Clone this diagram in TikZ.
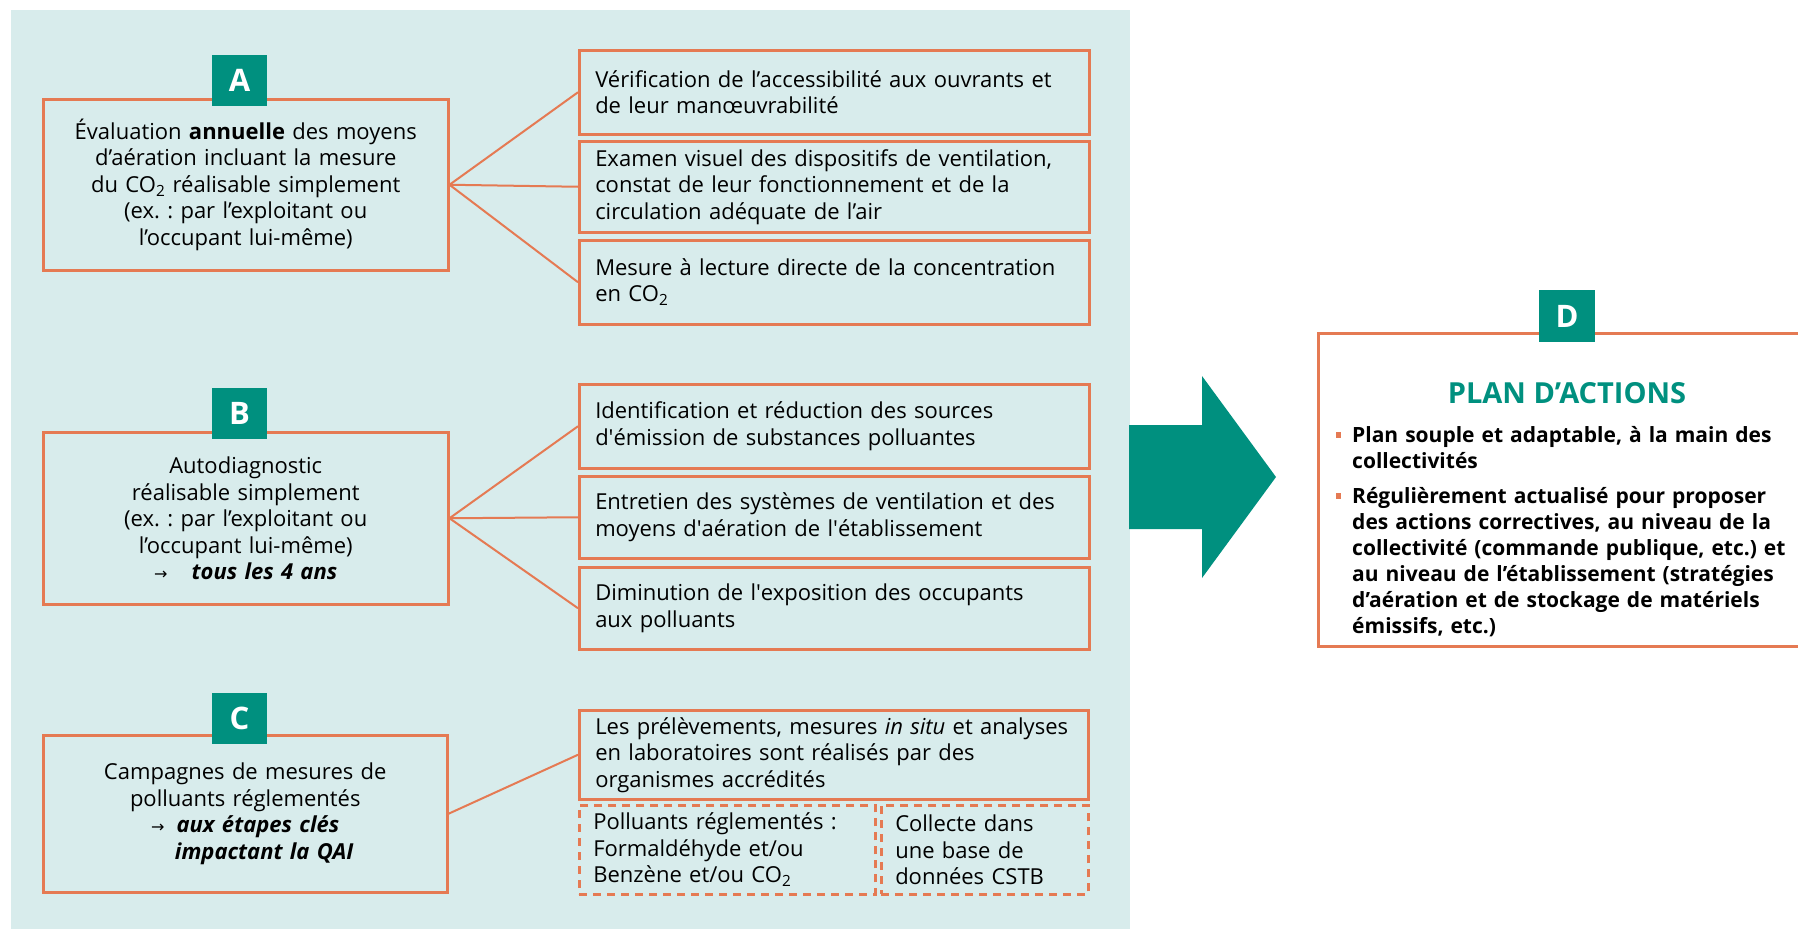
\documentclass[tikz,border=0pt]{standalone}
\usepackage{fontspec}
\setmainfont{Open Sans}
\newfontfamily\symfont{DejaVu Sans}
\definecolor{panelbg}{HTML}{D8ECEC}
\definecolor{orng}{HTML}{E57A53}
\definecolor{teal}{HTML}{00907F}
\newcommand{\arr}{{\symfont\fontsize{16}{20}\selectfont →}}
\newcommand{\sq}{\textquotesingle}
\frenchspacing
\begin{document}
\begin{tikzpicture}[x=1pt,y=-1pt,
  txt/.style={font=\fontsize{22}{26.5}\selectfont},
  mainbox/.style={txt,draw=orng,line width=2.5pt,anchor=north west,inner sep=0pt,align=center,text width=400pt,minimum width=405pt},
  subbox/.style={txt,draw=orng,line width=2.5pt,anchor=north west,inner xsep=16pt,inner ysep=0pt,align=left,text width=478pt,minimum width=510pt},
  dashbox/.style={txt,draw=orng,line width=2.5pt,dash pattern=on 8pt off 6pt,anchor=north west,inner xsep=14pt,inner ysep=0pt,align=left},
  letter/.style={fill=teal,text=white,font=\bfseries\fontsize{31}{31}\selectfont,minimum width=55pt,minimum height=51pt,inner sep=0pt},
  link/.style={draw=orng,line width=2pt},
  dtxt/.style={font=\bfseries\fontsize{21}{26}\selectfont,anchor=north west,inner sep=0pt,text width=460pt,align=left}
]
\useasboundingbox (0,0) rectangle (1798,929);
\clip (0,0) rectangle (1798,929);
\fill[panelbg] (11,10) rectangle (1130,929);

% Block A
\node[mainbox,minimum height=171pt] (A) at (42,98) {Évaluation \textbf{annuelle} des moyens\\d’aération incluant la mesure\\du CO\textsubscript{2} réalisable simplement\\(ex. : par l’exploitant ou\\l’occupant lui-même)};
\node[letter] (LA) at (239.5,80) {A};
\node[subbox,minimum height=84pt] (A1) at (578,49) {Vérification de l’accessibilité aux ouvrants et\\de leur manœuvrabilité};
\node[subbox,minimum height=91pt] (A2) at (578,140) {Examen visuel des dispositifs de ventilation,\\constat de leur fonctionnement et de la\\circulation adéquate de l’air};
\node[subbox,minimum height=84pt] (A3) at (578,239) {Mesure à lecture directe de la concentration\\en CO\textsubscript{2}};
\draw[link] (A.east) -- (A1.west);
\draw[link] (A.east) -- (A2.west);
\draw[link] (A.east) -- (A3.west);

% Block B
\node[mainbox,minimum height=172pt] (B) at (42,431) {Autodiagnostic\\réalisable simplement\\(ex. : par l’exploitant ou\\l’occupant lui-même)\\\arr\hspace{24pt}\textbf{\textit{tous les 4 ans}}};
\node[letter] (LB) at (239.5,413.5) {B};
\node[subbox,minimum height=84pt] (B1) at (578,383) {Identification et réduction des sources\\d\sq émission de substances polluantes};
\node[subbox,minimum height=82pt] (B2) at (578,475) {Entretien des systèmes de ventilation et des\\moyens d\sq aération de l\sq établissement};
\node[subbox,minimum height=82pt] (B3) at (578,566) {Diminution de l\sq exposition des occupants\\aux polluants};
\draw[link] (B.east) -- (B1.west);
\draw[link] (B.east) -- (B2.west);
\draw[link] (B.east) -- (B3.west);

% Block C
\node[mainbox,minimum height=157pt,minimum width=404pt] (C) at (42,734) {Campagnes de mesures de\\polluants réglementés\\\arr\hspace{12pt}\textbf{\textit{aux étapes clés}}\\\hspace*{38pt}\textbf{\textit{impactant la QAI}}};
\node[letter] (LC) at (239.5,718) {C};
\node[subbox,minimum height=89pt,minimum width=509pt,text width=477pt] (C1) at (578,709) {Les prélèvements, mesures \textit{in situ} et analyses\\en laboratoires sont réalisés par des\\organismes accrédités};
\node[dashbox,minimum height=89pt,minimum width=296pt,text width=268pt] (C2) at (578,804) {Polluants réglementés :\\Formaldéhyde et/ou\\Benzène et/ou CO\textsubscript{2}};
\node[dashbox,minimum height=89pt,minimum width=207pt,text width=179pt] (C3) at (880,804) {Collecte dans\\une base de\\données CSTB};
\draw[link] (C.east) -- (C1.west);

% Arrow
\fill[teal] (1129,425) -- (1202,425) -- (1202,376) -- (1276,477) -- (1202,578) -- (1202,529) -- (1129,529) -- cycle;

% Block D
\node[draw=orng,line width=2.5pt,anchor=north west,minimum width=500pt,minimum height=313pt,inner sep=0pt] (D) at (1317,332) {};
\node[letter,minimum width=56pt,minimum height=52pt] (LD) at (1567,316) {D};
\node[font=\bfseries\fontsize{29}{30}\selectfont,text=teal,inner sep=0pt] (DT) at (1567,393) {PLAN D’ACTIONS};
\node[dtxt] (D1) at (1352,426) {Plan souple et adaptable, à la main des\\collectivités};
\node[dtxt] (D2) at (1352,487) {Régulièrement actualisé pour proposer\\des actions correctives, au niveau de la\\collectivité (commande publique, etc.) et\\au niveau de l’établissement (stratégies\\d’aération et de stockage de matériels\\émissifs, etc.)};
\fill[orng] (1336,432) rectangle (1341,438);
\fill[orng] (1336,493) rectangle (1341,499);
\end{tikzpicture}
\end{document}
